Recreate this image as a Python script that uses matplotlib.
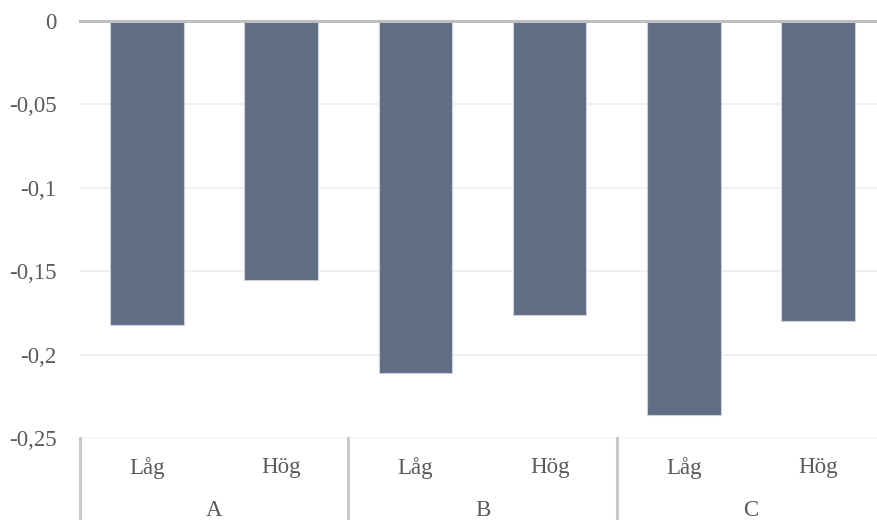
import matplotlib
matplotlib.use("Agg")
import matplotlib.pyplot as plt
import matplotlib.transforms as mtransforms

groups = ["A", "B", "C"]
sublabels = ["Låg", "Hög"]
values = [-0.182, -0.155, -0.211, -0.176, -0.236, -0.180]
yticks = [0, -0.05, -0.1, -0.15, -0.2, -0.25]
ytick_labels = ["0", "-0,05", "-0,1", "-0,15", "-0,2", "-0,25"]

W, H = 877, 520
fig = plt.figure(figsize=(W / 100, H / 100), dpi=100)
plt.rcParams['font.family'] = ['Liberation Serif', 'DejaVu Serif']
txt = "#5a5a5a"

left, right, top, bottom = 80, 885, 21, 438
ax = fig.add_axes([left / W, (H - bottom) / H, (right - left) / W, (bottom - top) / H])

x = list(range(len(values)))
ax.bar(x, values, width=0.55, color="#5f6d85", edgecolor="#cdd2db", linewidth=0.8, zorder=3)
ax.set_xlim(-0.5, len(values) - 0.5)
ax.set_ylim(-0.25, 0)
ax.set_yticks(yticks)
ax.set_yticklabels(ytick_labels, fontsize=16.5, color=txt)
ax.tick_params(axis="y", length=0, pad=17)
ax.set_xticks([])
for s in ax.spines.values():
    s.set_visible(False)
for t in yticks[1:]:
    ax.axhline(t, color="#eeeeee", lw=1.2, zorder=1)
ax.axhline(0, color="#bfbfbf", lw=2.2, zorder=4, clip_on=False)

trans = mtransforms.blended_transform_factory(ax.transData, ax.transAxes)
for i, v in enumerate(values):
    ax.text(i, -30 / 417, sublabels[i % 2], transform=trans, ha="center", va="center",
            fontsize=16.5, color=txt)
for g, name in enumerate(groups):
    ax.text(2 * g + 0.5, -73 / 417, name, transform=trans, ha="center", va="center",
            fontsize=16.5, color=txt)
    xs = 2 * g - 0.5
    ax.plot([xs, xs], [0, -82 / 417], transform=trans, color="#c8c8c8", lw=2.2, clip_on=False)

fig.savefig("out.png", dpi=100, facecolor="white")
